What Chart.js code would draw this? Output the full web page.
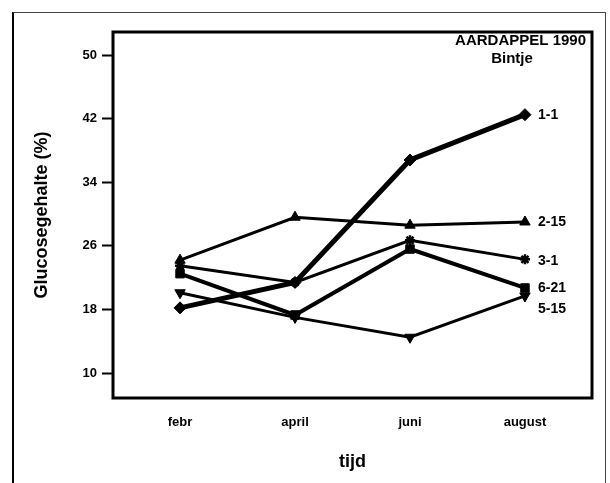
<!DOCTYPE html>
<html>
<head>
<meta charset="utf-8">
<script src="https://cdn.jsdelivr.net/npm/chart.js@4"></script>
<style>
  html, body { margin: 0; padding: 0; background: #fff; }
  #wrap { position: relative; width: 610px; height: 483px; overflow: hidden; }
  #frame { position: absolute; left: 12px; top: 12px; width: 591px; height: 480px;
           border-left: 2px solid #000; border-top: 1px solid #444; border-right: 1px solid #444; }
  #chart { position: absolute; left: 0; top: 0; }
</style>
</head>
<body>
<div id="wrap">
  <div id="frame"></div>
  <canvas id="chart" width="610" height="483"></canvas>
</div>
<script>
// data
const months = ['febr', 'april', 'juni', 'august'];
const yTicks = [10, 18, 26, 34, 42, 50];
const seriesNames = ['1-1', '2-15', '3-1', '6-21', '5-15'];
const s1_1 = [18.2, 21.4, 36.8, 42.5];
const s2_15 = [24.2, 29.6, 28.6, 29.0];
const s3_1 = [23.5, 21.4, 26.7, 24.3];
const s6_21 = [22.5, 17.3, 25.6, 20.7];
const s5_15 = [20.1, 17.0, 14.5, 19.7];

const FONT = "'Liberation Sans', Arial, sans-serif";

// per-series look
const styles = [
  { width: 5, point: 'rectRot', radius: 6, rot: 0, labelDy: 0 },
  { width: 3, point: 'triangle', radius: 6, rot: 0, labelDy: 0 },
  { width: 3, point: 'star', radius: 5, rot: 0, labelDy: 2 },
  { width: 4, point: 'rect', radius: 6, rot: 0, labelDy: 0 },
  { width: 3, point: 'triangle', radius: 6, rot: 180, labelDy: 13 },
];

const allSeries = [s1_1, s2_15, s3_1, s6_21, s5_15];

const datasets = allSeries.map((vals, i) => ({
  label: seriesNames[i],
  data: vals.map((v, j) => ({ x: j, y: v })),
  borderColor: '#000',
  backgroundColor: '#000',
  borderWidth: styles[i].width,
  pointStyle: styles[i].point,
  pointRadius: styles[i].radius,
  pointRotation: styles[i].rot,
  pointBorderWidth: styles[i].point === 'star' ? 2.5 : 1,
  tension: 0,
}));

const decorations = {
  id: 'decorations',
  afterDraw(chart) {
    const { ctx, chartArea: a } = chart;
    ctx.save();
    // plot frame
    ctx.strokeStyle = '#000';
    ctx.lineWidth = 3;
    ctx.strokeRect(a.left, a.top, a.right - a.left, a.bottom - a.top);

    // heading inside the plot
    ctx.fillStyle = '#000';
    ctx.font = 'bold 15px ' + FONT;
    ctx.textAlign = 'right';
    ctx.textBaseline = 'middle';
    ctx.fillText('AARDAPPEL 1990', a.right - 6, 41);
    ctx.textAlign = 'center';
    ctx.fillText('Bintje', 512, 59);

    // series labels at the line ends
    ctx.font = 'bold 14px ' + FONT;
    ctx.textAlign = 'left';
    chart.data.datasets.forEach((ds, i) => {
      const meta = chart.getDatasetMeta(i);
      const last = meta.data[meta.data.length - 1];
      ctx.fillText(ds.label, last.x + 13, last.y + styles[i].labelDy);
    });
    ctx.restore();
  },
};

new Chart(document.getElementById('chart'), {
  type: 'line',
  data: { datasets },
  options: {
    responsive: false,
    animation: false,
    layout: { padding: { left: 0, top: 32, right: 18, bottom: 0 } },
    plugins: { legend: { display: false }, tooltip: { enabled: false } },
    scales: {
      x: {
        type: 'linear',
        min: -0.583,
        max: 3.583,
        afterBuildTicks: (axis) => { axis.ticks = months.map((m, i) => ({ value: i })); },
        afterFit: (axis) => { axis.height = 85; },
        grid: { display: false },
        border: { display: false },
        ticks: {
          padding: 9,
          color: '#000',
          font: { family: FONT, size: 13, weight: 'bold' },
          callback: (v) => months[v],
          maxRotation: 0,
        },
        title: {
          display: true,
          text: 'tijd',
          color: '#000',
          font: { family: FONT, size: 18, weight: 'bold' },
          padding: { top: 17, bottom: 10 },
        },
      },
      y: {
        min: 6.86,
        max: 52.9,
        afterBuildTicks: (axis) => { axis.ticks = yTicks.map((v) => ({ value: v })); },
        afterFit: (axis) => { axis.width = 113; },
        grid: { drawOnChartArea: false, drawTicks: true, tickLength: 11, tickWidth: 2, color: '#000' },
        border: { display: false },
        ticks: {
          padding: 5,
          color: '#000',
          font: { family: FONT, size: 13, weight: 'bold' },
        },
        title: {
          display: true,
          text: 'Glucosegehalte (%)',
          color: '#000',
          font: { family: FONT, size: 18, weight: 'bold' },
          padding: { top: 31, bottom: 0 },
        },
      },
    },
  },
  plugins: [decorations],
});
</script>
</body>
</html>
